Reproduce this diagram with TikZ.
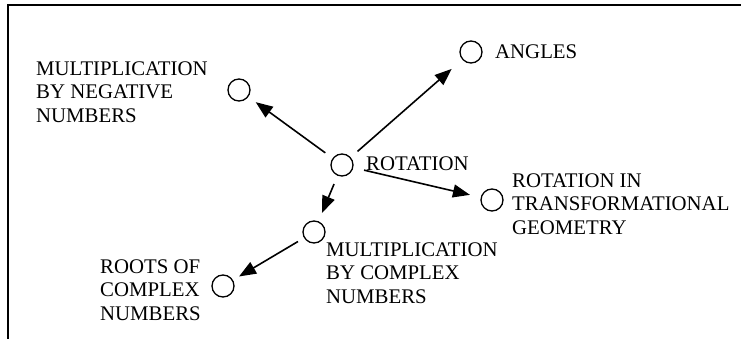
\documentclass[tikz,border=0pt]{standalone}
\usepackage{fontspec}
\setmainfont{Liberation Serif}
\usetikzlibrary{arrows.meta}
\begin{document}
\begin{tikzpicture}[x=1pt,y=-1pt,
  concept/.style={draw,circle,minimum size=22pt,inner sep=0pt,line width=1.3pt},
  label/.style={anchor=west,align=left,inner sep=0pt,
    font=\fontsize{20.8}{23.5}\selectfont},
  link/.style={line width=1.6pt,-{Triangle[length=17pt,width=13pt]},
    shorten <=9pt,shorten >=9pt}]
\useasboundingbox (0,0) rectangle (741,339);
% frame: top and left edges
\draw[line width=2pt] (7.5,339) -- (7.5,5.5) -- (741,5.5);
% concepts
\node[concept] (rot) at (342,165) {};
\node[concept] (ang) at (471,52) {};
\node[concept] (neg) at (239,90) {};
\node[concept] (geo) at (492,200) {};
\node[concept] (cpx) at (314,232) {};
\node[concept] (roots) at (223,286) {};
% labels
\node[label] (trot) at (366,164) {ROTATION};
\node[label] (tang) at (495,52) {ANGLES};
\node[label] (tneg) at (36,92) {MULTIPLICATION\\BY NEGATIVE\\NUMBERS};
\node[label] (tgeo) at (512,204) {ROTATION IN\\TRANSFORMATIONAL\\GEOMETRY};
\node[label] (tcpx) at (326,273) {MULTIPLICATION\\BY COMPLEX\\NUMBERS};
\node[label] (troots) at (100,290) {ROOTS OF\\COMPLEX\\NUMBERS};
% links
\draw[link,shorten >=14pt] (rot) -- (ang);
\draw[link] (rot) -- (neg);
\draw[link,shorten <=11pt,shorten >=11pt] (rot) -- (geo);
\draw[link] (rot) -- (cpx);
\draw[link,shorten <=7pt,shorten >=7pt] (cpx) -- (roots);
\end{tikzpicture}
\end{document}
